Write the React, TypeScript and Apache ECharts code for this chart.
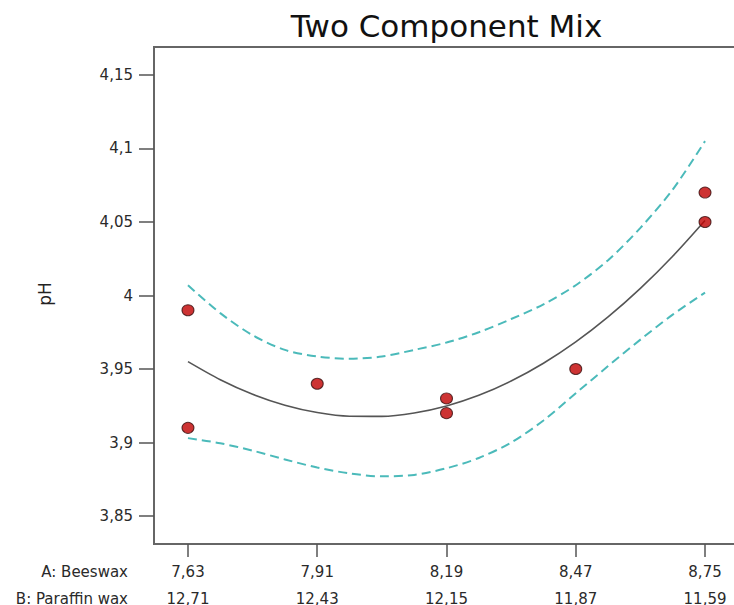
import React, { useEffect, useRef } from "react";
import * as echarts from "echarts";

// Tick labels
const beeswaxTicks = [7.63, 7.91, 8.19, 8.47, 8.75];
const paraffinTicks = [12.71, 12.43, 12.15, 11.87, 11.59];
const phTicks = [3.85, 3.9, 3.95, 4.0, 4.05, 4.1, 4.15];

// Design points (A: Beeswax, pH)
const pointA = [7.63, 7.63, 7.91, 8.19, 8.19, 8.47, 8.75, 8.75];
const pointPH = [3.99, 3.91, 3.94, 3.93, 3.92, 3.95, 4.07, 4.05];

// Curves
const curveA = [7.63, 7.7, 7.77, 7.84, 7.91, 7.98, 8.05, 8.12, 8.19, 8.26, 8.33, 8.4, 8.47, 8.54, 8.61, 8.68, 8.75];
const fitPH = [3.955, 3.9427, 3.9328, 3.9254, 3.9204, 3.9179, 3.9178, 3.9201, 3.9249, 3.9321, 3.9418, 3.9539, 3.9684, 3.9854, 4.0048, 4.0267, 4.051];
const upperPH = [4.007, 3.988, 3.973, 3.963, 3.9585, 3.957, 3.9585, 3.963, 3.968, 3.975, 3.984, 3.994, 4.007, 4.024, 4.046, 4.072, 4.105];
const lowerPH = [3.903, 3.8995, 3.8945, 3.8885, 3.883, 3.879, 3.877, 3.878, 3.8825, 3.8895, 3.9, 3.915, 3.9335, 3.952, 3.97, 3.987, 4.002];

const FONT = "DejaVu Sans";
const fmt = (v: number) => String(+v.toFixed(2)).replace(".", ",");

export default function App() {
  const ref = useRef<HTMLDivElement>(null);
  useEffect(() => {
    if (!ref.current) return;
    const chart = echarts.init(ref.current, undefined, { renderer: "svg" });
    const pair = (xs: number[], ys: number[]) => xs.map((x, i) => [x, ys[i]]);
    const dashStyle = { color: "#4bbaba", width: 2, type: [9, 5] as any };
    chart.setOption({
      animation: false,
      backgroundColor: "#ffffff",
      grid: {
        left: 154,
        top: 47,
        width: 585,
        height: 497,
        show: true,
        borderColor: "#666",
        borderWidth: 2,
        outerBoundsMode: "none",
        containLabel: false,
      },
      xAxis: {
        type: "value",
        min: 7.5564,
        max: 8.8236,
        splitLine: { show: false },
        axisLine: { show: true, lineStyle: { color: "#666", width: 2 } },
        axisTick: {
          show: true,
          length: 13,
          inside: false,
          lineStyle: { color: "#555", width: 1.5 },
          customValues: beeswaxTicks,
        },
        axisLabel: {
          customValues: beeswaxTicks,
          margin: 14,
          fontFamily: FONT,
          fontSize: 15,
          color: "#2a2a2a",
          lineHeight: 27,
          formatter: (v: number) => {
            let idx = 0;
            beeswaxTicks.forEach((b, i) => {
              if (Math.abs(b - v) < Math.abs(beeswaxTicks[idx] - v)) idx = i;
            });
            return fmt(beeswaxTicks[idx]) + "\n" + fmt(paraffinTicks[idx]);
          },
        },
      },
      yAxis: {
        type: "value",
        min: 3.831,
        max: 4.169,
        splitLine: { show: false },
        axisLine: { show: true, lineStyle: { color: "#666", width: 2 } },
        axisTick: {
          show: true,
          length: 15,
          lineStyle: { color: "#555", width: 1.5 },
          customValues: phTicks,
        },
        axisLabel: {
          customValues: phTicks,
          margin: 21,
          fontFamily: FONT,
          fontSize: 15,
          color: "#2a2a2a",
          formatter: (v: number) => fmt(v),
        },
      },
      graphic: [
        {
          type: "text",
          x: 446.5,
          y: 26,
          style: {
            text: "Two Component Mix",
            font: `31px '${FONT}'`,
            fill: "#111",
            align: "center",
            verticalAlign: "middle",
          },
        },
        {
          type: "text",
          x: 44.5,
          y: 294,
          rotation: Math.PI / 2,
          style: {
            text: "pH",
            font: `17px '${FONT}'`,
            fill: "#222",
            align: "center",
            verticalAlign: "middle",
          },
        },
        {
          type: "text",
          x: 128,
          y: 572,
          style: {
            text: "A: Beeswax",
            font: `15px '${FONT}'`,
            fill: "#2a2a2a",
            align: "right",
            verticalAlign: "middle",
          },
        },
        {
          type: "text",
          x: 128,
          y: 599,
          style: {
            text: "B: Paraffin wax",
            font: `15px '${FONT}'`,
            fill: "#2a2a2a",
            align: "right",
            verticalAlign: "middle",
          },
        },
      ],
      series: [
        {
          type: "line",
          data: pair(curveA, upperPH),
          smooth: 0.3,
          symbol: "none",
          lineStyle: dashStyle,
          z: 2,
        },
        {
          type: "line",
          data: pair(curveA, lowerPH),
          smooth: 0.3,
          symbol: "none",
          lineStyle: dashStyle,
          z: 2,
        },
        {
          type: "line",
          data: pair(curveA, fitPH),
          smooth: 0.3,
          symbol: "none",
          lineStyle: { color: "#555", width: 1.6 },
          z: 3,
        },
        {
          type: "scatter",
          data: pair(pointA, pointPH),
          symbol: "circle",
          symbolSize: [12, 11],
          itemStyle: { color: "#c00000", borderColor: "#3a1010", borderWidth: 1 },
          z: 5,
        },
      ],
    });
    return () => chart.dispose();
  }, []);
  return (
    <div
      ref={ref}
      style={{ position: "absolute", left: 0, top: 0, width: 734, height: 605 }}
    />
  );
}
